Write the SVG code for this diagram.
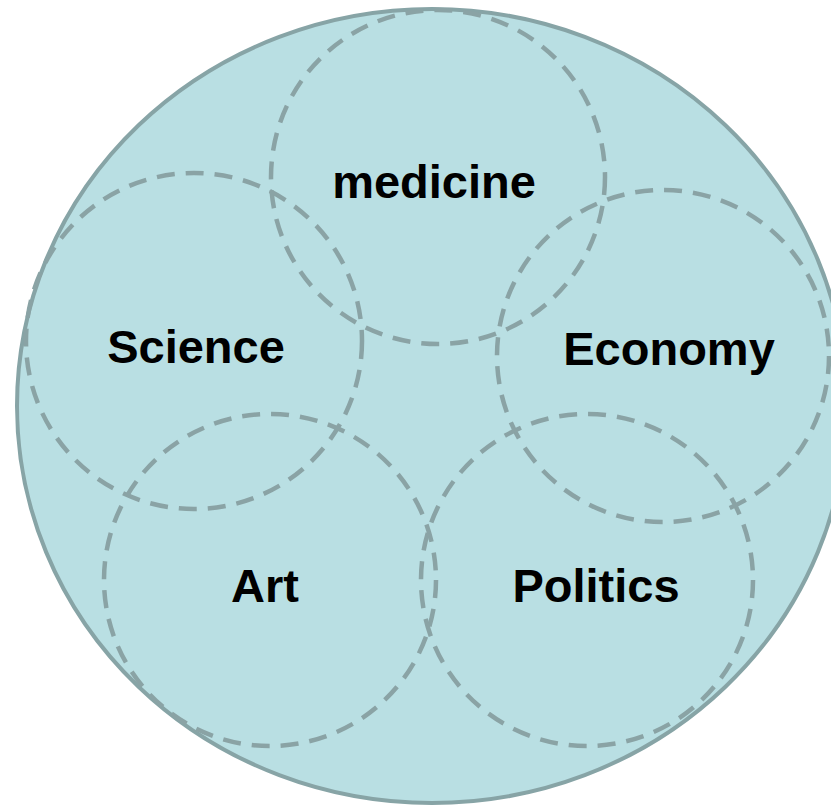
<svg xmlns="http://www.w3.org/2000/svg" width="831" height="808" viewBox="0 0 831 808">
<style>
.outer{fill:#b9dfe3;stroke:#87a4a6;stroke-width:4}
.sub{fill:none;stroke:#8aa3a5;stroke-width:4.5;stroke-dasharray:18 11}
.lbl{font-family:"Liberation Sans",Arial,sans-serif;font-weight:bold;font-size:47px;fill:#000;text-anchor:middle}
</style>
<g id="whole"><ellipse class="outer" cx="432" cy="406" rx="415" ry="397"/></g>
<g id="medicine"><circle class="sub" cx="438" cy="177" r="167"/><text class="lbl" x="434" y="198">medicine</text></g>
<g id="science"><circle class="sub" cx="194" cy="341" r="168"/><text class="lbl" x="196" y="363">Science</text></g>
<g id="economy"><circle class="sub" cx="663" cy="356" r="166"/><text class="lbl" x="669" y="365">Economy</text></g>
<g id="art"><circle class="sub" cx="270" cy="580" r="166"/><text class="lbl" x="265" y="602">Art</text></g>
<g id="politics"><circle class="sub" cx="587" cy="580" r="166"/><text class="lbl" x="596" y="602">Politics</text></g>
<g id="connectors"></g>
</svg>
